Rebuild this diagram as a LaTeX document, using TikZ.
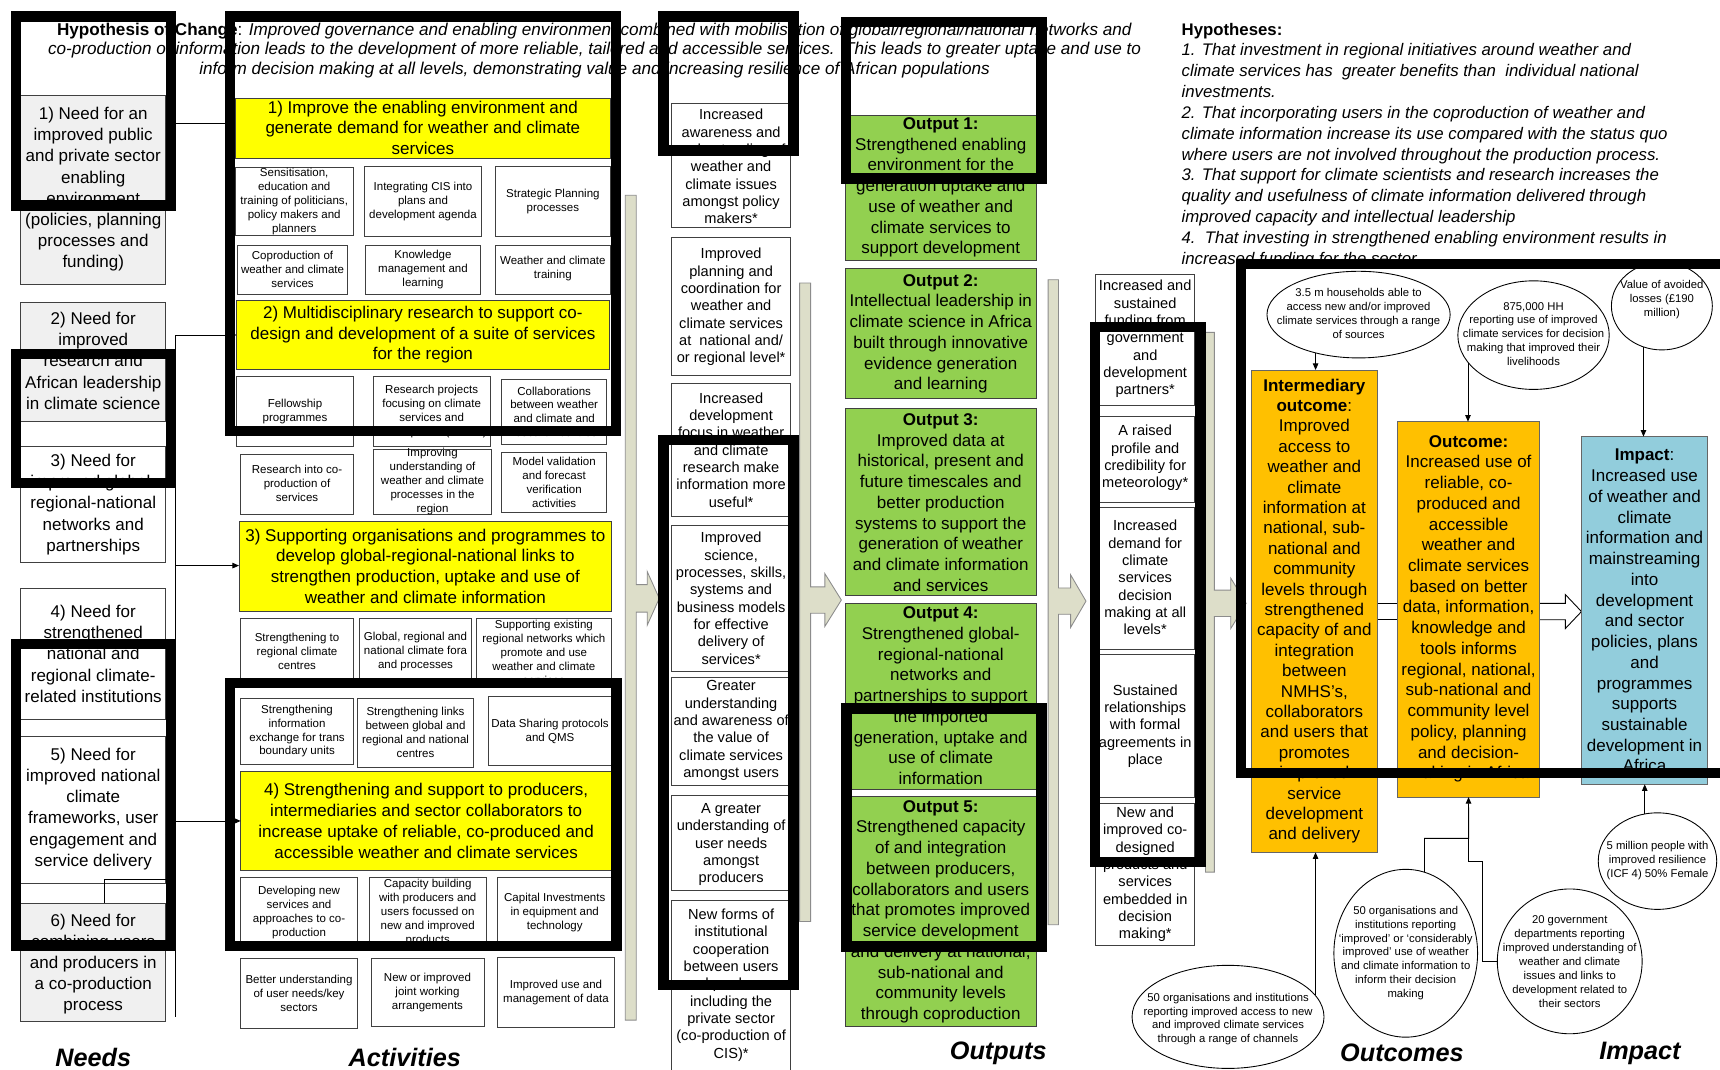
\documentclass[tikz,border=0pt]{standalone}
\usepackage{fontspec}
\setmainfont{Liberation Sans}
\usetikzlibrary{arrows.meta,shapes.geometric}
\definecolor{ylw}{HTML}{FFFF00}
\definecolor{grn}{HTML}{92D050}
\definecolor{org}{HTML}{FFC000}
\definecolor{blu}{HTML}{92CDDC}
\definecolor{oliv}{HTML}{DDDEC9}
\definecolor{lgray}{HTML}{F0F0F0}
% rectangle node from its corners: name, x1, y1, x2, y2, style
\newcommand{\boxnode}[6]{\node[#6, minimum width={(#4)-(#2)}, minimum height={(#5)-(#3)}] (#1) at ({((#2)+(#4))/2},{((#3)+(#5))/2}) {};}
\begin{document}
\begin{tikzpicture}[x=1pt,y=-1pt,
  cell/.style={draw=black!75, line width=0.8pt, inner sep=0pt, outer sep=0pt, fill=white},
  ybox/.style={cell, fill=ylw},
  gbox/.style={cell, fill=grn},
  obox/.style={cell, fill=org, draw=black!60},
  bbox/.style={cell, fill=blu, draw=black!60},
  txt/.style={inner sep=0pt, align=center},
  tneed/.style={txt, font=\fontsize{15.5}{19.3}\selectfont},
  tyel/.style={txt, font=\fontsize{15.5}{18.9}\selectfont},
  tsml/.style={txt, font=\fontsize{10.5}{12.7}\selectfont},
  tcol/.style={txt, font=\fontsize{13.3}{15.8}\selectfont},
  tout/.style={txt, font=\fontsize{15.5}{18.9}\selectfont},
  tint/.style={txt, font=\fontsize{15.5}{18.6}\selectfont},
  tell/.style={txt, font=\fontsize{10.3}{12.7}\selectfont},
  ell/.style={ellipse, draw=black, line width=0.8pt, fill=white, inner sep=0pt},
  lbl/.style={inner sep=0pt, font=\fontsize{23}{27}\selectfont\bfseries\itshape},
  link/.style={draw=black, line width=0.8pt},
  conn/.style={link, -{Triangle[length=6pt,width=5pt]}},
  olive/.style={fill=oliv, draw=black!45, line width=0.8pt},
  frame/.style={draw=black, line width=9.5pt}]
\useasboundingbox (0,0) rectangle (1568,975);
\fill[white] (0,0) rectangle (1568,975);

% ---------- heading and hypotheses ----------
\node[txt, font=\fontsize{15.6}{18}\selectfont] (hdr) at (542,46)
 {\textbf{Hypothesis of Change}: \textit{Improved governance and enabling environment combined with mobilisation of global/regional/national networks and}\\
  \textit{co-production of information leads to the development of more reliable, tailored and accessible services.\ \ This leads to greater uptake and use to}\\
  \textit{inform decision making at all levels, demonstrating value and increasing resilience of African populations}};
\node[inner sep=0pt, align=left, anchor=west, font=\fontsize{15.3}{19}\selectfont] (hyp) at (1077,132.5)
 {\textbf{Hypotheses:}\\
  \textit{1. That investment in regional initiatives around weather and}\\
  \textit{climate services has\ \ greater benefits than\ \ individual national}\\
  \textit{investments.}\\
  \textit{2. That incorporating users in the coproduction of weather and}\\
  \textit{climate information increase its use compared with the status quo}\\
  \textit{where users are not involved throughout the production process.}\\
  \textit{3. That support for climate scientists and research increases the}\\
  \textit{quality and usefulness of climate information delivered through}\\
  \textit{improved capacity and intellectual leadership}\\
  \textit{4.\ \ That investing in strengthened enabling environment results in}\\
  \textit{increased funding for the sector.}};

% ---------- block arrows between columns ----------
\draw[olive] (570,178) -- (580,178) -- (580,533) -- (590,533) -- (590,521) -- (601,545.5) -- (590,570) -- (590,558) -- (580,558) -- (580,930) -- (570,930) -- cycle;
\draw[olive] (729,258) -- (739,258) -- (739,535) -- (752,535) -- (752,523) -- (767,547) -- (752,571) -- (752,559) -- (739,559) -- (739,840) -- (729,840) -- cycle;
\draw[olive] (955.5,255) -- (965,255) -- (965,536) -- (976,536) -- (976,524) -- (990,548) -- (976,572) -- (976,560) -- (965,560) -- (965,843) -- (955.5,843) -- cycle;
\draw[olive] (1099,303) -- (1107,303) -- (1107,538) -- (1122,538) -- (1122,527) -- (1136,550) -- (1122,573) -- (1122,562) -- (1107,562) -- (1107,795) -- (1099,795) -- cycle;
\draw[link, fill=white] (1250,550) -- (1280,550) -- (1280,565) -- (1250,565) -- cycle;
\draw[link, fill=white] (1398,550) -- (1427,550) -- (1427,542) -- (1441.7,557.5) -- (1427,573) -- (1427,565) -- (1398,565) -- cycle;

% ---------- needs ----------
\boxnode{n1}{18.8}{86.6}{151}{259.2}{cell, fill=lgray}
\node[tneed] (n1t) at (85,172.5) {1) Need for an\\improved public\\and private sector\\enabling\\environment\\(policies, planning\\processes and\\funding)};
\boxnode{n2}{18.8}{275.6}{151}{384.4}{cell, fill=lgray}
\node[tneed] (n2t) at (85,329) {2) Need for\\improved\\research and\\African leadership\\in climate science};
\boxnode{n3}{18.8}{407.2}{151}{513}{cell}
\node[tneed] (n3t) at (85,460) {3) Need for\\improved global-\\regional-national\\networks and\\partnerships};
\boxnode{n4}{18.8}{536.3}{151}{656.3}{cell}
\node[tneed] (n4t) at (85,596) {4) Need for\\strengthened\\national and\\regional climate-\\related institutions};
\boxnode{n5}{18.8}{671}{151}{805.2}{cell}
\node[tneed] (n5t) at (85,737.5) {5) Need for\\improved national\\climate\\frameworks, user\\engagement and\\service delivery};
\boxnode{n6}{18.8}{823.4}{151}{931.3}{cell, fill=lgray}
\node[tneed] (n6t) at (85,879) {6) Need for\\combining users\\and producers in\\a co-production\\process};

% ---------- activities ----------
\boxnode{a1}{214.2}{89.6}{556.7}{144.3}{ybox}
\node[tyel] (a1t) at (385.5,116.5) {1) Improve the enabling environment and\\generate demand for weather and climate\\services};
\boxnode{a11}{214.2}{152.5}{322.1}{214.8}{cell}
\node[tsml] (a11t) at (268.2,183.7) {Sensitisation,\\education and\\training of politicians,\\policy makers and\\planners};
\boxnode{a12}{332.1}{151.9}{439.1}{215.7}{cell}
\node[tsml] (a12t) at (385.6,183.4) {Integrating CIS into\\plans and\\development agenda};
\boxnode{a13}{451.2}{151.9}{556.7}{215.7}{cell}
\node[tsml] (a13t) at (504,183.4) {Strategic Planning\\processes};
\boxnode{a21}{216.7}{224}{316.6}{268}{cell}
\node[tsml] (a21t) at (266.7,245.4) {Coproduction of\\weather and climate\\services};
\boxnode{a22}{333}{224}{438.1}{268}{cell}
\node[tsml] (a22t) at (385.6,245.4) {Knowledge\\management and\\learning};
\boxnode{a23}{451.2}{224}{556.7}{268}{cell}
\node[tsml] (a23t) at (504,245.2) {Weather and climate\\training};
\boxnode{a2}{215.7}{274.1}{555.4}{336.7}{ybox}
\node[tyel] (a2t) at (385.5,305.2) {2) Multidisciplinary research to support co-\\design and development of a suite of services\\for the region};
\boxnode{a31}{215.7}{343.4}{322.1}{407.2}{cell}
\node[tsml] (a31t) at (268.9,375.3) {Fellowship\\programmes};
\boxnode{a32}{340.3}{343.4}{446.7}{407.2}{cell}
\node[tsml] (a32t) at (393.5,375.4) {Research projects\\focusing on climate\\services and\\development (CCRD)};
\boxnode{a33}{457.3}{345.7}{553}{404.7}{cell}
\node[tsml] (a33t) at (505.2,375.4) {Collaborations\\between weather\\and climate and\\research centres};
\boxnode{a41}{219.4}{413.9}{322.1}{468.6}{cell}
\node[tsml] (a41t) at (270.8,440.9) {Research into co-\\production of\\services};
\boxnode{a42}{340.3}{409.6}{448.2}{468.6}{cell}
\node[tsml] (a42t) at (394.3,439.2) {Improving\\understanding of\\weather and climate\\processes in the\\region};
\boxnode{a43}{457.3}{412.6}{553}{467.4}{cell}
\node[tsml] (a43t) at (505.2,439.4) {Model validation\\and forecast\\verification\\activities};
\boxnode{a3}{217.9}{475.6}{557.6}{557.1}{ybox}
\node[tyel] (a3t) at (387.8,516.1) {3) Supporting organisations and programmes to\\develop global-regional-national links to\\strengthen production, uptake and use of\\weather and climate information};
\boxnode{a51}{219.4}{563.5}{322.1}{620}{cell}
\node[tsml] (a51t) at (270.8,594.1) {Strengthening to\\regional climate\\centres};
\boxnode{a52}{327.6}{563.5}{430}{620}{cell}
\node[tsml] (a52t) at (378.8,594.1) {Global, regional and\\national climate fora\\and processes};
\boxnode{a53}{433.9}{563.5}{557.6}{622}{cell}
\node[tsml] (a53t) at (495.8,594.7) {Supporting existing\\regional networks which\\promote and use\\weather and climate\\services};
\boxnode{a61}{219.4}{636.5}{322.1}{696.9}{cell}
\node[tsml] (a61t) at (270.8,666.5) {Strengthening\\information\\exchange for trans\\boundary units};
\boxnode{a62}{325.7}{636.5}{431.8}{699.4}{cell}
\node[tsml] (a62t) at (378.8,668) {Strengthening links\\between global and\\regional and national\\centres};
\boxnode{a63}{445.1}{635}{557.6}{697.5}{cell}
\node[tsml] (a63t) at (501.4,666.5) {Data Sharing protocols\\and QMS};
\boxnode{a4}{219.4}{703.6}{557.6}{793.1}{ybox}
\node[tyel] (a4t) at (388.5,748.4) {4) Strengthening and support to producers,\\intermediaries and sector collaborators to\\increase uptake of reliable, co-produced and\\accessible weather and climate services};
\boxnode{a71}{219.4}{800.2}{325.7}{863}{cell}
\node[tsml] (a71t) at (272.6,831.8) {Developing new\\services and\\approaches to co-\\production};
\boxnode{a72}{336.7}{800.2}{443}{863}{cell}
\node[tsml] (a72t) at (389.9,831.7) {Capacity building\\with producers and\\users focussed on\\new and improved\\products};
\boxnode{a73}{453.7}{800.2}{557.6}{863}{cell}
\node[tsml] (a73t) at (505.7,832.1) {Capital Investments\\in equipment and\\technology};
\boxnode{a81}{219.4}{873.7}{325.7}{937.6}{cell}
\node[tsml] (a81t) at (272.6,905.7) {Better understanding\\of user needs/key\\sectors};
\boxnode{a82}{338.2}{873.7}{441.2}{936}{cell}
\node[tsml] (a82t) at (389.7,904.5) {New or improved\\joint working\\arrangements};
\boxnode{a83}{453.7}{872.7}{560}{937}{cell}
\node[tsml] (a83t) at (506.9,904.5) {Improved use and\\management of data};

% ---------- short-term results ----------
\boxnode{s1}{612.3}{94.2}{720.8}{207}{cell}
\node[tcol] (s1t) at (666.5,152) {Increased\\awareness and\\understanding of\\weather and\\climate issues\\amongst policy\\makers*};
\boxnode{s2}{612.3}{216}{720.8}{341.8}{cell}
\node[tcol] (s2t) at (666.5,280) {Improved\\planning and\\coordination for\\weather and\\climate services\\at\ \ national and/\\or regional level*};
\boxnode{s3}{612.3}{349.4}{720.8}{471}{cell}
\node[tcol] (s3t) at (666.5,410.3) {Increased\\development\\focus in weather\\and climate\\research make\\information more\\useful*};
\boxnode{s4}{612.3}{478.6}{720.8}{612.3}{cell}
\node[tcol] (s4t) at (666.5,545.5) {Improved\\science,\\processes, skills,\\systems and\\business models\\for effective\\delivery of\\services*};
\boxnode{s5}{612.3}{618}{720.8}{716}{cell}
\node[tcol] (s5t) at (666.5,666) {Greater\\understanding\\and awareness of\\the value of\\climate services\\amongst users};
\boxnode{s6}{612.3}{725}{720.8}{812}{cell}
\node[tcol] (s6t) at (666.5,770) {A greater\\understanding of\\user needs\\amongst\\producers};
\boxnode{s7}{612.3}{821}{720.8}{980}{cell}
\node[tcol] (s7t) at (666.5,898) {New forms of\\institutional\\cooperation\\between users\\and producers\\including the\\private sector\\(co-production of\\CIS)*};

% ---------- outputs ----------
\boxnode{o1}{770.3}{104.8}{945}{237.6}{gbox}
\node[tout] (o1t) at (857.6,170.9) {\textbf{Output 1:}\\Strengthened enabling\\environment for the\\generation uptake and\\use of weather and\\climate services to\\support development};
\boxnode{o2}{770.3}{244.6}{945}{363.1}{gbox}
\node[tout] (o2t) at (857.6,304.3) {\textbf{Output 2:}\\Intellectual leadership in\\climate science in Africa\\built through innovative\\evidence generation\\and learning};
\boxnode{o3}{770.3}{372.2}{945}{542.4}{gbox}
\node[tout] (o3t) at (857.6,458.1) {\textbf{Output 3:}\\Improved data at\\historical, present and\\future timescales and\\better production\\systems to support the\\generation of weather\\and climate information\\and services};
\boxnode{o4}{770.3}{550}{945}{720.1}{gbox}
\node[tout] (o4t) at (857.6,634.3) {\textbf{Output 4:}\\Strengthened global-\\regional-national\\networks and\\partnerships to support\\the imported\\generation, uptake and\\use of climate\\information};
\boxnode{o5}{770.3}{726.3}{945}{935.9}{gbox}
\node[tout] (o5t) at (857.6,831.1) {\textbf{Output 5:}\\Strengthened capacity\\of and integration\\between producers,\\collaborators and users\\that promotes improved\\service development\\and delivery at national,\\sub-national and\\community levels\\through coproduction};

% ---------- intermediate results ----------
\boxnode{t1}{999}{250}{1089}{370}{cell}
\node[tcol] (t1t) at (1044,309) {Increased and\\sustained\\funding from\\government\\and\\development\\partners*};
\boxnode{t2}{999}{380}{1089}{458}{cell}
\node[tcol] (t2t) at (1044,417.5) {A raised\\profile and\\credibility for\\meteorology*};
\boxnode{t3}{999}{463}{1089}{592}{cell}
\node[tcol] (t3t) at (1044,526.5) {Increased\\demand for\\climate\\services\\decision\\making at all\\levels*};
\boxnode{t4}{999}{597}{1089}{727}{cell}
\node[tcol] (t4t) at (1044,662) {Sustained\\relationships\\with formal\\agreements in\\place};
\boxnode{t5}{999}{732}{1089}{862}{cell}
\node[tcol] (t5t) at (1044,797) {New and\\improved co-\\designed\\products and\\services\\embedded in\\decision\\making*};

% ---------- outcomes and impact ----------
\boxnode{int}{1140.8}{337.3}{1255.7}{777}{obox}
\node[tint] (intt) at (1198.2,557.1) {\textbf{Intermediary}\\\textbf{outcome}:\\Improved\\access to\\weather and\\climate\\information at\\national, sub-\\national and\\community\\levels through\\strengthened\\capacity of and\\integration\\between\\NMHS's,\\collaborators\\and users that\\promotes\\improved\\service\\development\\and delivery};
\boxnode{outc}{1274.3}{384.4}{1403.2}{726.6}{obox}
\node[tout] (outct) at (1338.8,555) {\textbf{Outcome:}\\Increased use of\\reliable, co-\\produced and\\accessible\\weather and\\climate services\\based on better\\data, information,\\knowledge and\\tools informs\\regional, national,\\sub-national and\\community level\\policy, planning\\and decision-\\making in Africa};
\boxnode{imp}{1441.7}{398}{1556.6}{715}{bbox}
\node[tout] (impt) at (1499.2,556.7) {\textbf{Impact}:\\Increased use\\of weather and\\climate\\information and\\mainstreaming\\into\\development\\and sector\\policies, plans\\and\\programmes\\supports\\sustainable\\development in\\Africa};

% ---------- indicator ellipses ----------
\node[ell, minimum width=167, minimum height=79] (e1) at (1238.5,286.8) {};
\node[tell] (e1t) at (1238.5,286) {3.5 m households able to\\access new and/or improved\\climate services through a range\\of sources};
\node[ell, minimum width=138, minimum height=99] (e2) at (1398,305.5) {};
\node[tell] (e2t) at (1398,304.5) {875,000 HH\\reporting use of improved\\climate services for decision\\making that improved their\\livelihoods};
\node[ell, minimum width=92, minimum height=80] (e3) at (1515,279) {};
\node[tell] (e3t) at (1515,273) {Value of avoided\\losses (£190\\million)};
\node[ell, minimum width=108, minimum height=88] (e4) at (1511,785) {};
\node[tell] (e4t) at (1511,784.5) {5 million people with\\improved resilience\\(ICF 4) 50\% Female};
\node[ell, minimum width=132, minimum height=132] (e5) at (1431,876.4) {};
\node[tell] (e5t) at (1431,876.4) {20 government\\departments reporting\\improved understanding of\\weather and climate\\issues and links to\\development related to\\their sectors};
\node[ell, minimum width=131, minimum height=153] (e6) at (1281.5,869) {};
\node[tell] (e6t) at (1281.5,868.8) {50 organisations and\\institutions reporting\\`improved' or `considerably\\improved' use of weather\\and climate information to\\inform their decision\\making};
\node[ell, minimum width=175, minimum height=94] (e7) at (1119.5,927) {};
\node[tell] (e7t) at (1119.5,929) {50 organisations and institutions\\reporting improved access to new\\and improved climate services\\through a range of channels};

\draw[conn] (e1.222) -- (e1.222 |- int.north);
\draw[conn] (e2.203) -- (e2.203 |- outc.north);
\draw[conn] (e3.246) -- (e3.246 |- imp.north);
\draw[conn] (e4.105.6) -- (e4.105.6 |- imp.south);
\draw[conn] (e7.14.8) -- (e7.14.8 |- int.south);
\coordinate (j6) at (1338.8,764.3);
\coordinate (j5) at (1338.8,785.5);
\draw[conn] (e6.77.8) |- (j6) -- (outc.south);
\draw[link] (e5.west) -- ++(-13,0) |- (j5) -- (j6);

% ---------- needs to activities ----------
\coordinate (b2) at (160,305.4);
\coordinate (b3) at (160,515.6);
\coordinate (b4) at (160,748.4);
\coordinate (b5) at (160,761);
\coordinate (b6) at (160,801.6);
\coordinate (bend) at (160,927);
\draw[conn] (n1.east |- 0,112.4) -- (a1.west |- 0,112.4);
\draw[link] (b2) -- (bend);
\draw[conn] (b2) -- (a2.west |- b2);
\draw[conn] (b3) -- (a3.west |- b3);
\draw[conn] (b4) -- (a4.west |- b4);
\draw[link] (n5.east |- b5) -- (b5);
\draw[link] (b6) -| (n6.north -| 94.8,0);

% ---------- column labels ----------
\node[lbl] (lneeds) at (85,964) {Needs};
\node[lbl] (lact) at (369,964) {Activities};
\node[lbl] (lout) at (910,960) {Outputs};
\node[lbl] (lotc) at (1278,960) {Outcomes};
\node[lbl] (limp) at (1495,960) {Impact};

% ---------- highlight frames ----------
\draw[frame] (14.7,15) rectangle (155.7,187.5);
\draw[frame] (14.7,322.5) rectangle (155.7,440.5);
\draw[frame] (14.7,587) rectangle (155.7,862);
\draw[frame] (209.7,15) rectangle (561.7,392.7);
\draw[frame] (209.7,622.7) rectangle (562.1,862.5);
\draw[frame] (605,15) rectangle (723.2,137.2);
\draw[frame] (605,401) rectangle (723.2,898);
\draw[frame] (771,20) rectangle (949.6,162.9);
\draw[frame] (771.8,645.7) rectangle (949.6,863);
\draw[frame] (998,298) rectangle (1094.5,786);
\draw[frame] (1131.5,240.5) rectangle (1600,704.5);
\end{tikzpicture}
\end{document}
